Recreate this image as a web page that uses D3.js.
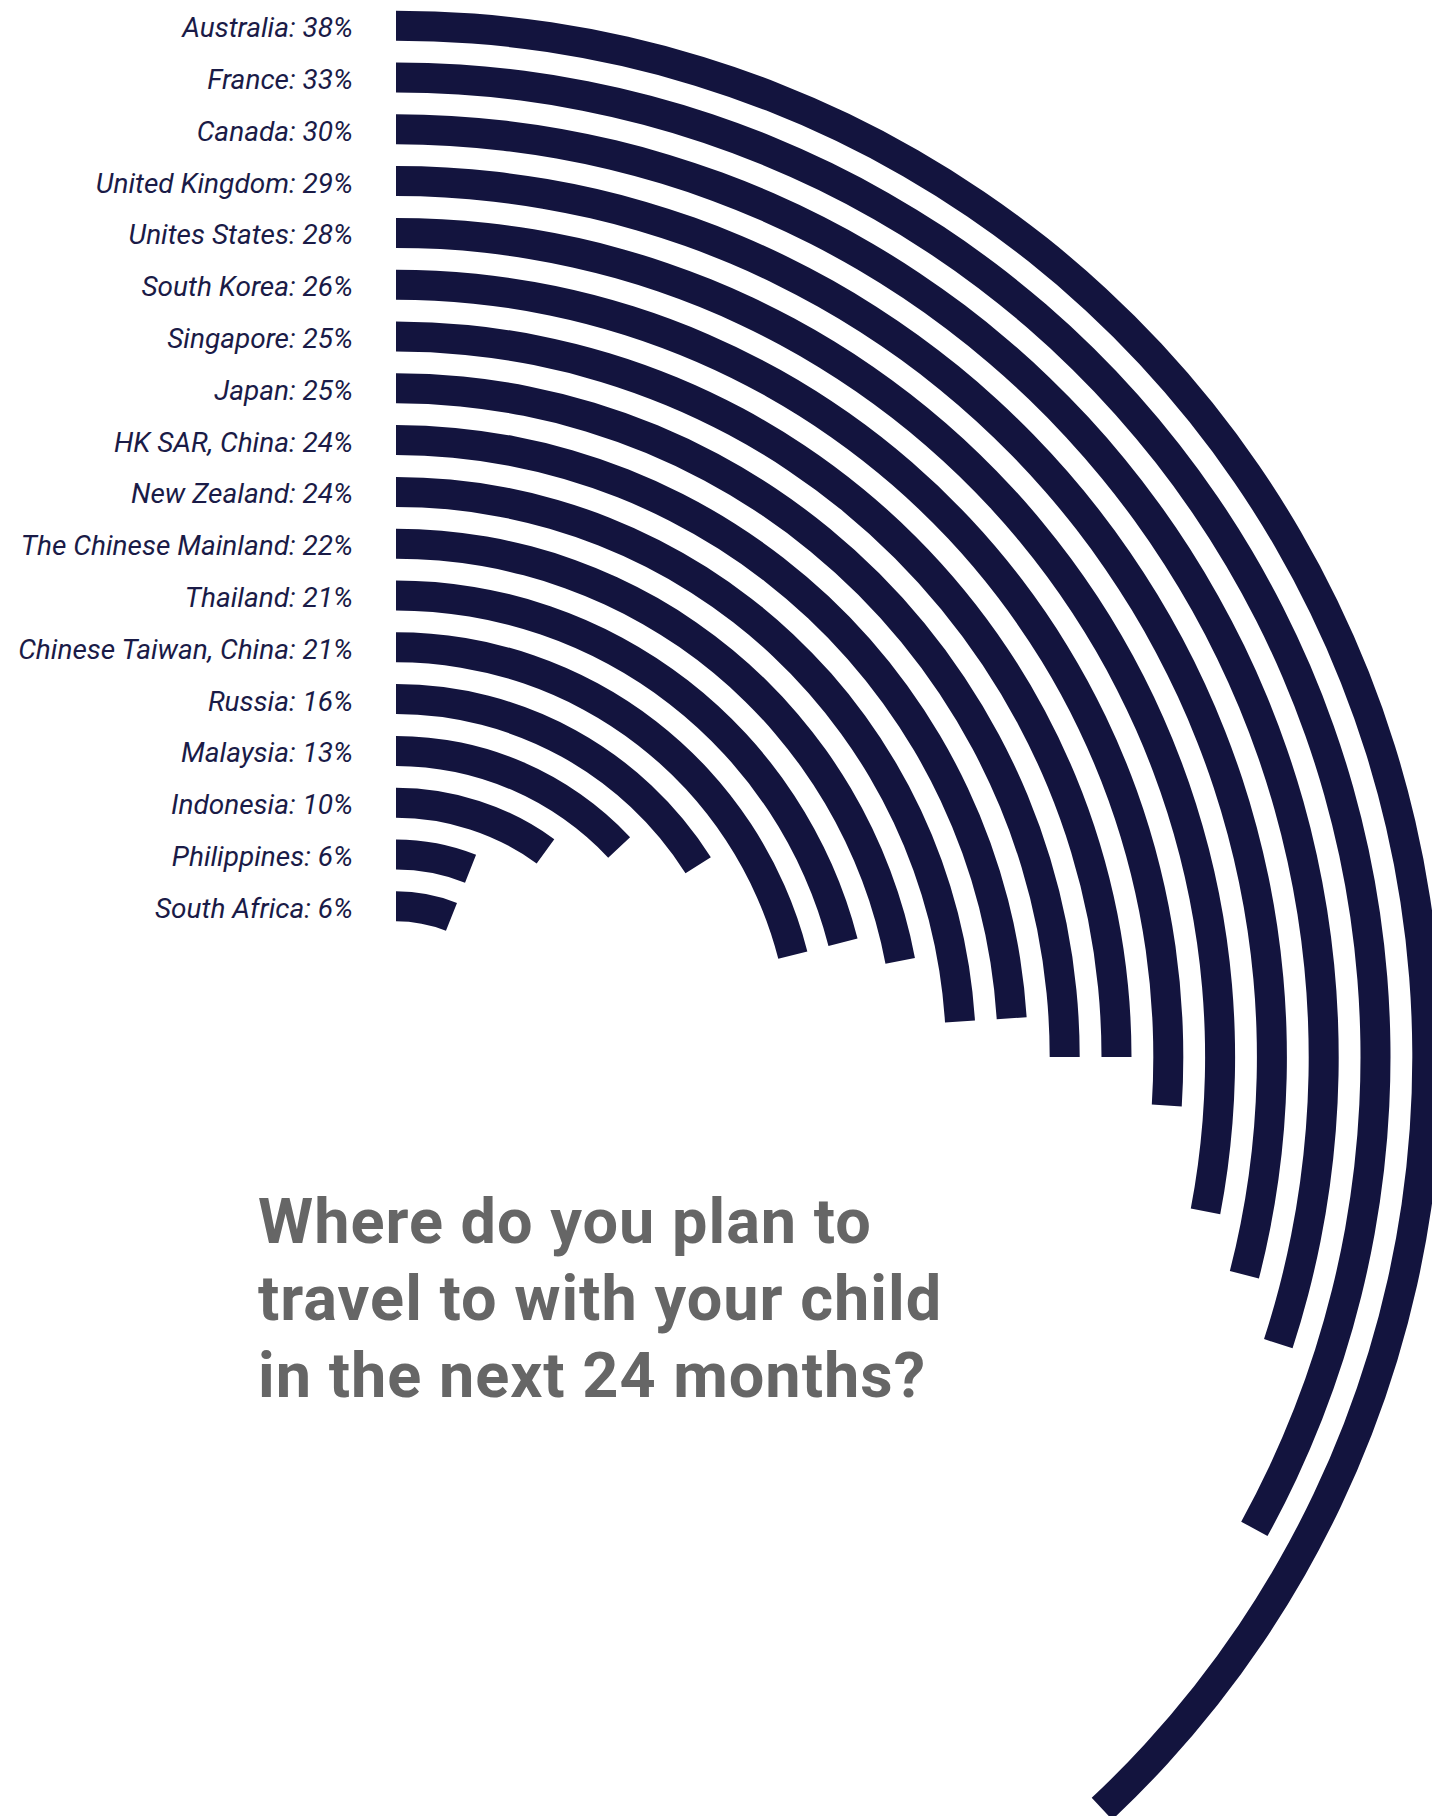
<!DOCTYPE html>
<html>
<head>
<meta charset="utf-8">
<script src="https://cdn.jsdelivr.net/npm/d3@7"></script>
<style>
  html, body { margin: 0; padding: 0; background: #ffffff; }
  svg { display: block; }
</style>
</head>
<body>
<svg id="chart" width="1432" height="1816"></svg>
<script>
// Destinations, ordered from the outermost ring inwards
const countries = [
  "Australia", "France", "Canada", "United Kingdom", "Unites States",
  "South Korea", "Singapore", "Japan", "HK SAR, China", "New Zealand",
  "The Chinese Mainland", "Thailand", "Chinese Taiwan, China", "Russia",
  "Malaysia", "Indonesia", "Philippines", "South Africa"
];
// Share of respondents planning to travel there (%)
const shares = [38, 33, 30, 29, 28, 26, 25, 25, 24, 24, 22, 21, 21, 16, 13, 10, 6, 6];

const titleLines = [
  "Where do you plan to",
  "travel to with your child",
  "in the next 24 months?"
];

const rows = countries.map((c, i) => ({ country: c, value: shares[i] }));

const W = 1432, H = 1816;
const cx = 396, cy = 1057;          // common centre of all rings
const ringWidth = 30;

const svg = d3.select("#chart");

// Row centres (used both for label placement and ring radius)
const y = d3.scalePoint()
  .domain(countries)
  .range([25.7, 25.7 + 17 * 51.8]);

// Percent -> sweep angle (a full turn is 100%)
const angle = d3.scaleLinear().domain([0, 100]).range([0, 2 * Math.PI]);

const arc = d3.arc()
  .innerRadius(d => (cy - y(d.country)) - ringWidth / 2)
  .outerRadius(d => (cy - y(d.country)) + ringWidth / 2)
  .startAngle(0)
  .endAngle(d => angle(d.value));

svg.append("g")
  .attr("transform", `translate(${cx},${cy})`)
  .selectAll("path")
  .data(rows)
  .join("path")
  .attr("d", arc)
  .attr("fill", "#13143e");

// Country labels, right-aligned just left of each ring's start
svg.append("g")
  .selectAll("text")
  .data(rows)
  .join("text")
  .attr("x", 353)
  .attr("y", d => y(d.country) + 11.5)
  .attr("text-anchor", "end")
  .attr("font-family", "Roboto, 'Noto Sans', sans-serif")
  .attr("font-style", "italic")
  .attr("font-size", 28)
  .attr("fill", "#1a1b47")
  .text(d => `${d.country}: ${d.value}%`);

// Question title
svg.append("g")
  .selectAll("text")
  .data(titleLines)
  .join("text")
  .attr("x", 258)
  .attr("y", (d, i) => 1243 + i * 77)
  .attr("font-family", "Roboto, 'Noto Sans', sans-serif")
  .attr("font-weight", 700)
  .attr("font-size", 63)
  .attr("letter-spacing", 1)
  .attr("fill", "#666666")
  .text(d => d);
</script>
</body>
</html>
